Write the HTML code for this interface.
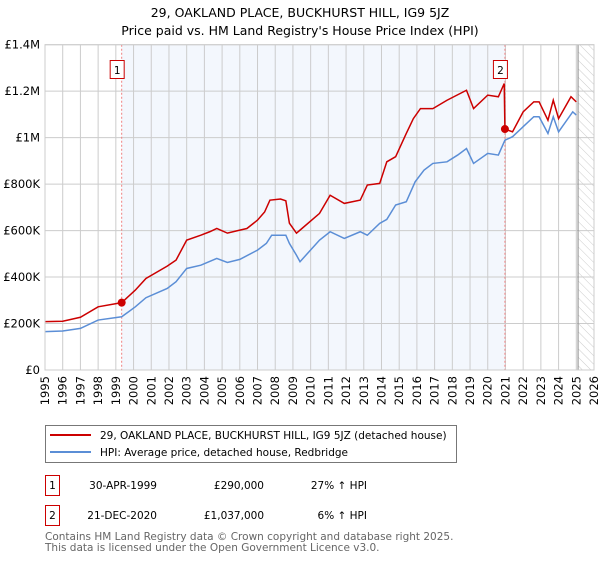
<!DOCTYPE html>
<html><head><meta charset="utf-8">
<style>
body{margin:0;background:#fff;width:600px;height:560px;overflow:hidden;font-family:"DejaVu Sans","Liberation Sans",sans-serif;}
svg text{font-family:"DejaVu Sans","Liberation Sans",sans-serif;}
</style></head>
<body>
<svg id="chart" width="600" height="560" xmlns="http://www.w3.org/2000/svg">
<defs>
<pattern id="hatch" width="6" height="6" patternUnits="userSpaceOnUse" patternTransform="rotate(-45)">
<line x1="0" y1="0" x2="0" y2="6" stroke="#ccc" stroke-width="1"/>
</pattern>
</defs>
<text x="300" y="17" text-anchor="middle" font-size="12.5">29, OAKLAND PLACE, BUCKHURST HILL, IG9 5JZ</text>
<text x="300" y="35" text-anchor="middle" font-size="12.5">Price paid vs. HM Land Registry's House Price Index (HPI)</text>
<g id="plot"></g>
<g>
<rect x="45.5" y="425.5" width="411" height="37" fill="#fff" stroke="#777"/>
<line x1="50" y1="435" x2="91" y2="435" stroke="#cc0000" stroke-width="2"/>
<text x="100" y="439" font-size="10.5">29, OAKLAND PLACE, BUCKHURST HILL, IG9 5JZ (detached house)</text>
<line x1="50" y1="452" x2="91" y2="452" stroke="#5b8ed6" stroke-width="2"/>
<text x="100" y="456" font-size="10.5">HPI: Average price, detached house, Redbridge</text>
</g>
<g font-size="10.5">
<rect x="45.5" y="475.5" width="14" height="20" fill="none" stroke="#cc0000"/>
<text x="52.5" y="489" text-anchor="middle">1</text>
<text x="157" y="489" text-anchor="end">30-APR-1999</text>
<text x="264" y="489" text-anchor="end">£290,000</text>
<text x="367" y="489" text-anchor="end">27% ↑ HPI</text>
<rect x="45.5" y="505.5" width="14" height="20" fill="none" stroke="#cc0000"/>
<text x="52.5" y="519" text-anchor="middle">2</text>
<text x="157" y="519" text-anchor="end">21-DEC-2020</text>
<text x="264" y="519" text-anchor="end">£1,037,000</text>
<text x="367" y="519" text-anchor="end">6% ↑ HPI</text>
</g>
<text x="45" y="540" font-size="10.5" fill="#666">Contains HM Land Registry data © Crown copyright and database right 2025.</text>
<text x="45" y="551" font-size="10.5" fill="#666">This data is licensed under the Open Government Licence v3.0.</text>
</svg>
<script>
const redYears=[1995,1996,1997,1998,1999.33,2000.1,2000.7,2001.9,2002.4,2003,2003.8,2004.3,2004.7,2005.3,2006,2006.4,2007,2007.4,2007.7,2008.3,2008.6,2008.8,2009.2,2009.4,2010.5,2011.1,2011.9,2012.8,2013.2,2013.9,2014.3,2014.8,2015.4,2015.8,2016.2,2016.9,2017.7,2018.8,2019.2,2020.0,2020.6,2020.93,2020.97,2021.4,2022.0,2022.6,2022.9,2023.4,2023.7,2024.0,2024.7,2025.0];
const redValues=[208,210,227,272,290,344,394,447,473,559,580,595,609,589,602,609,645,680,731,736,728,632,589,602,674,752,717,731,796,803,896,918,1018,1082,1125,1125,1161,1204,1125,1183,1176,1233,1037,1025,1111,1154,1154,1075,1161,1082,1176,1154];
const hpiYears=[1995,1996,1997,1998,1999.33,2000.1,2000.7,2001.9,2002.4,2003,2003.8,2004.7,2005.3,2006,2007,2007.5,2007.8,2008.6,2008.8,2009.2,2009.4,2010.5,2011.1,2011.9,2012.8,2013.2,2013.9,2014.3,2014.8,2015.4,2015.9,2016.4,2016.9,2017.7,2018.3,2018.8,2019.2,2020.0,2020.6,2020.97,2021.4,2022.0,2022.6,2022.9,2023.4,2023.7,2024.0,2024.8,2025.0];
const hpiValues=[165,168,179,215,229,272,311,351,380,437,451,480,463,476,516,545,580,580,545,494,466,559,595,566,595,580,631,648,710,724,810,860,889,896,925,953,889,932,925,989,1004,1047,1090,1090,1018,1090,1025,1111,1097];
const yTicks=[0,200,400,600,800,1000,1200,1400];
const yTickLabels=["£0","£200K","£400K","£600K","£800K","£1M","£1.2M","£1.4M"];
const xTicks=[1995,1996,1997,1998,1999,2000,2001,2002,2003,2004,2005,2006,2007,2008,2009,2010,2011,2012,2013,2014,2015,2016,2017,2018,2019,2020,2021,2022,2023,2024,2025,2026];
const saleYears=[1999.33,2020.97];
const saleValues=[290,1037];
const saleLabels=["1","2"];

const X0=45,X1=594,Y0=370,Y1=44.7;
const xs=y=>X0+(y-1995)/(2026-1995)*(X1-X0);
const ys=v=>Y0-v/1400*(Y0-Y1);
const NS="http://www.w3.org/2000/svg";
const g=document.getElementById('plot');
function mk(t,a){const e=document.createElementNS(NS,t);for(const k in a)e.setAttribute(k,a[k]);g.appendChild(e);return e;}
let r=mk('rect',{x:xs(saleYears[0]),y:Y1,width:xs(saleYears[1])-xs(saleYears[0]),height:Y0-Y1,fill:'#eef3fc',opacity:0.7});


let h=mk('rect',{x:xs(2025.1),y:Y1,width:X1-xs(2025.1),height:Y0-Y1,fill:'url(#hatch)'});


xTicks.forEach(t=>{
 const l=mk('line',{x1:xs(t),x2:xs(t),y1:Y1,y2:Y0,stroke:'#ccc','stroke-width':1});
 
 
 const tx=mk('text',{x:0,y:0,'font-size':11.5,'text-anchor':'end',transform:`translate(${xs(t)+4},${Y0+6}) rotate(-90)`});
 tx.textContent=t;
 
 
});
yTicks.forEach((t,i)=>{
 const l=mk('line',{x1:X0,x2:X1,y1:ys(t),y2:ys(t),stroke:'#ccc','stroke-width':1});
 
 
 const tx=mk('text',{x:40,y:ys(t)+4,'font-size':11.5,'text-anchor':'end'});
 tx.textContent=yTickLabels[i];
 
 
});
let vl=mk('line',{x1:xs(2025.1),x2:xs(2025.1),y1:Y1,y2:Y0,stroke:'#888','stroke-width':1});


saleYears.forEach(t=>{
 const l=mk('line',{x1:xs(t),x2:xs(t),y1:Y1,y2:Y0,stroke:'#f08080','stroke-width':1,'stroke-dasharray':'2,2'});
 
 
});
const hp=mk('polyline',{points:hpiYears.map((y,i)=>xs(y)+','+ys(hpiValues[i])).join(' '),fill:'none',stroke:'#5b8ed6','stroke-width':1.5});


const rp=mk('polyline',{points:redYears.map((y,i)=>xs(y)+','+ys(redValues[i])).join(' '),fill:'none',stroke:'#cc0000','stroke-width':1.5});


saleYears.forEach((t,i)=>{
 const c=mk('circle',{cx:xs(t),cy:ys(saleValues[i]),r:4,fill:'#cc0000'});
 
 
 const b=mk('rect',{x:xs(t)-11.5,y:60.5,width:14,height:18,fill:'#fff',stroke:'#cc0000'});
 
 
 const tx=mk('text',{x:xs(t)-4.5,y:74,'font-size':10.5,'text-anchor':'middle'});
 tx.textContent=saleLabels[i];
 
 
});
const ax=mk('rect',{x:X0,y:Y1,width:X1-X0,height:Y0-Y1,fill:'none',stroke:'#ccc'});


</script>
</body></html>
